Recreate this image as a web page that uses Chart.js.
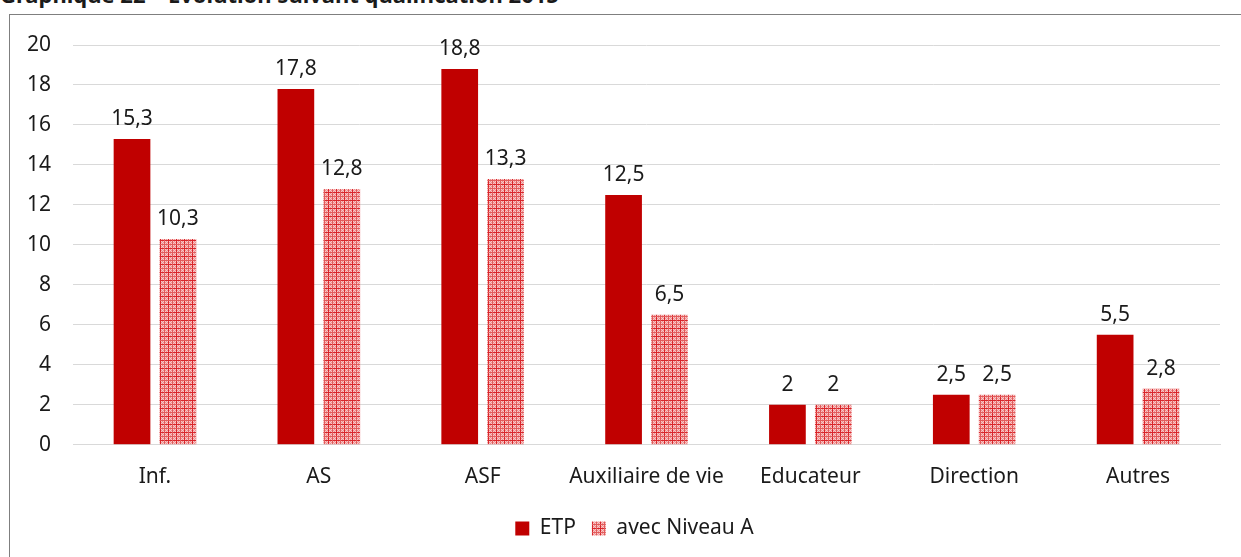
<!DOCTYPE html>
<html>
<head>
<meta charset="utf-8">
<script src="https://cdn.jsdelivr.net/npm/chart.js@4/dist/chart.umd.min.js"></script>
<style>
  body { margin: 0; background: #fff; width: 1241px; height: 557px; overflow: hidden; position: relative; font-family: "Noto Sans", "Open Sans", sans-serif; }
  #titre { position: absolute; left: 0; top: -20px; font-weight: bold; font-size: 22px; line-height: 28px; color: #1a1a1a; white-space: nowrap; }
  #cadre { position: absolute; left: 9px; top: 14px; width: 1250px; height: 560px; border: 1px solid #7f7f7f; }
  #myChart { position: absolute; left: 0; top: 0; }
</style>
</head>
<body>
<div id="titre">Graphique 22 – Evolution suivant qualification 2015</div>
<div id="cadre"></div>
<canvas id="myChart" width="1241" height="557"></canvas>
<script>
// Données du graphique
const categories = ['Inf.', 'AS', 'ASF', 'Auxiliaire de vie', 'Educateur', 'Direction', 'Autres'];
const etp = [15.3, 17.8, 18.8, 12.5, 2, 2.5, 5.5];
const niveauA = [10.3, 12.8, 13.3, 6.5, 2, 2.5, 2.8];
const yTicks = [0, 2, 4, 6, 8, 10, 12, 14, 16, 18, 20];

const rouge = '#c00000';
const police = '"Noto Sans"';

// Motif quadrillé pour la série "avec Niveau A"
function creerMotif() {
    const c = document.createElement('canvas');
    c.width = 8; c.height = 8;
    const g = c.getContext('2d');
    g.fillStyle = '#ee8e8e';
    g.fillRect(0, 0, 8, 8);
    for (let y = 0; y < 8; y++) {
        for (let x = 0; x < 8; x++) {
            if ((x + y) % 2 === 0) {
                g.fillStyle = '#f9c8c8';
                g.fillRect(x, y, 1, 1);
            }
        }
    }
    g.fillStyle = '#d9262b';
    g.fillRect(0, 0, 8, 1);
    g.fillRect(0, 0, 1, 8);
    g.fillStyle = '#e25c5c';
    g.fillRect(4, 0, 1, 8);
    g.fillRect(0, 4, 8, 1);
    return g.createPattern(c, 'repeat');
}

// Format français des nombres (virgule)
function formatFr(v) {
    return String(v).replace('.', ',');
}

// Plugin maison pour afficher les valeurs au-dessus des barres
const etiquettes = {
    id: 'etiquettes',
    afterDatasetsDraw(chart) {
        const ctx = chart.ctx;
        ctx.save();
        ctx.font = '21px ' + police;
        ctx.fillStyle = '#1a1a1a';
        ctx.textAlign = 'center';
        ctx.textBaseline = 'bottom';
        chart.data.datasets.forEach((ds, i) => {
            chart.getDatasetMeta(i).data.forEach((bar, j) => {
                ctx.fillText(formatFr(ds.data[j]), bar.x, bar.y - 9);
            });
        });
        ctx.restore();
    }
};

// Décale la légende vers la droite (centrée sur la zone du graphique)
const decalageLegende = {
    id: 'decalageLegende',
    afterLayout(chart) {
        if (chart.legend) {
            chart.legend.left += 22;
            chart.legend.right += 22;
        }
    }
};

const motif = creerMotif();

const ctx = document.getElementById('myChart').getContext('2d');
const myChart = new Chart(ctx, {
    type: 'bar',
    data: {
        labels: categories,
        datasets: [{
            label: 'ETP',
            data: etp,
            backgroundColor: rouge,
            borderWidth: 0
        }, {
            label: 'avec Niveau A',
            data: niveauA,
            backgroundColor: motif,
            borderWidth: 0
        }]
    },
    options: {
        responsive: false,
        animation: false,
        categoryPercentage: 0.56,
        barPercentage: 0.8,
        layout: {
            padding: { top: 45, right: 21, bottom: 8, left: 5 }
        },
        plugins: {
            legend: {
                position: 'bottom',
                labels: {
                    color: '#1a1a1a',
                    font: { size: 21, family: police },
                    boxWidth: 14,
                    boxHeight: 14,
                    padding: 16
                }
            },
            tooltip: { enabled: false }
        },
        scales: {
            x: {
                grid: { display: false },
                border: { color: '#d9d9d9', width: 1 },
                ticks: {
                    color: '#1a1a1a',
                    font: { size: 21, family: police },
                    padding: 12
                }
            },
            y: {
                min: 0,
                max: 20,
                afterBuildTicks(axis) {
                    axis.ticks = yTicks.map(v => ({ value: v }));
                },
                grid: { color: '#d9d9d9', drawTicks: false },
                border: { display: false },
                ticks: {
                    color: '#1a1a1a',
                    font: { size: 21, family: police },
                    padding: 22
                }
            }
        }
    },
    plugins: [etiquettes, decalageLegende]
});
</script>
</body>
</html>
